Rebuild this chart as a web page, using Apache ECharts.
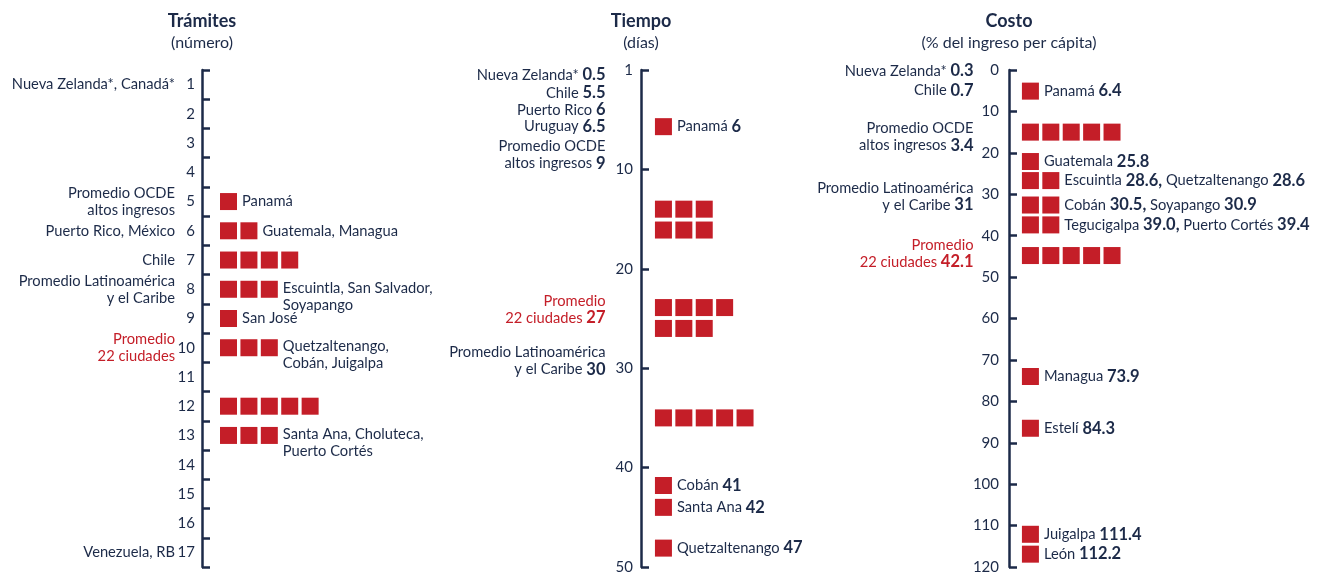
<!DOCTYPE html>
<html><head><meta charset="utf-8">
<script src="https://cdn.jsdelivr.net/npm/echarts@6/dist/echarts.min.js"></script>
<style>html,body{margin:0;padding:0;background:#fff}#c{width:1329px;height:575px}</style>
</head><body><div id="c"></div><script>
// ---------- DATA ----------
// Panel 1: Trámites (número)
const tramCats = ['1','2','3','4','5','6','7','8','9','10','11','12','13','14','15','16','17'];
const tramLeft = ['Nueva Zelanda*, Canadá*','','','','Promedio OCDE\naltos ingresos','Puerto Rico, México','Chile','Promedio Latinoamérica\ny el Caribe','','Promedio\n22 ciudades','','','','','','','Venezuela, RB'];
const tramLeftRed = ['10'];
const tramRows = ['5','6','7','8','9','10','12','13'];
const tramCounts = [1,2,4,3,1,3,5,3];
const tramNames = ['Panamá','Guatemala, Managua','','Escuintla, San Salvador,\nSoyapango','San José','Quetzaltenango,\nCobán, Juigalpa','','Santa Ana, Choluteca,\nPuerto Cortés'];

// Panel 2: Tiempo (días)
const tiempoTickLabels = ['1','10','20','30','40','50'];
const tiempoRowPos = [5.7,14.0,16.1,23.9,26.0,35.0,41.8,44.0,48.1];
const tiempoCounts = [1,3,3,4,3,5,1,1,1];
const tiempoNames = ['Panamá','','','','','','Cobán','Santa Ana','Quetzaltenango'];
const tiempoValues = ['6','','','','','','41','42','47'];
const tiempoRefNames = ['Nueva Zelanda*','Chile','Puerto Rico','Uruguay','Promedio OCDE\naltos ingresos','Promedio\n22 ciudades','Promedio Latinoamérica\ny el Caribe'];
const tiempoRefValues = ['0.5','5.5','6','6.5','9','27','30'];
const tiempoRefPos = [0.5,2.3,4.0,5.7,8.55,24.1,29.3];
const tiempoRefRed = [false,false,false,false,false,true,false];

// Panel 3: Costo (% del ingreso per cápita)
const costoRowPos = [5.1,15.0,22.1,26.7,32.6,37.4,44.8,74.0,86.5,112.1,116.9];
const costoCounts = [1,5,1,2,2,2,5,1,1,1,1];
const costoNames = [['Panamá'],[],['Guatemala'],['Escuintla','Quetzaltenango'],['Cobán','Soyapango'],['Tegucigalpa','Puerto Cortés'],[],['Managua'],['Estelí'],['Juigalpa'],['León']];
const costoValues = [['6.4'],[],['25.8'],['28.6','28.6'],['30.5','30.9'],['39.0','39.4'],[],['73.9'],['84.3'],['111.4'],['112.2']];
const costoRefNames = ['Nueva Zelanda*','Chile','Promedio OCDE\naltos ingresos','Promedio Latinoamérica\ny el Caribe','Promedio\n22 ciudades'];
const costoRefValues = ['0.3','0.7','3.4','31','42.1'];
const costoRefPos = [0.25,5.0,16.2,30.5,44.3];
const costoRefRed = [false,false,false,false,true];

// ---------- STYLE ----------
const NAVY = '#1c2a48', RED = '#c41e28', FONT = 'Lato';
const SQ = 17;
function rich(align){
  const b = {fontFamily: FONT, lineHeight: 17, align: align};
  return {
    t: Object.assign({}, b, {fontSize: 14.7, color: NAVY}),
    n: Object.assign({}, b, {fontSize: 16.5, fontWeight: 'bold', color: NAVY}),
    tr: Object.assign({}, b, {fontSize: 14.7, color: RED}),
    nr: Object.assign({}, b, {fontSize: 16.5, fontWeight: 'bold', color: RED})
  };
}
function textLines(s, red){ return s.split('\n').map(l => '{' + (red ? 'tr' : 't') + '|' + l + '}').join('\n'); }
function textWithNum(s, num, red){
  const lines = s.split('\n');
  const tk = red ? 'tr' : 't', nk = red ? 'nr' : 'n';
  return lines.map((l, i) => i === lines.length - 1 ? '{' + tk + '|' + l + ' }{' + nk + '|' + num + '}' : '{' + tk + '|' + l + '}').join('\n');
}

// grids: axis x position, offset of first square center (in slot units)
const G = [
  {left: 202, xmin: -1.3},
  {left: 641, xmin: -1.1},
  {left: 1009, xmin: -1.05}
];
const TOP = 70, H = 497, W = 204;

function squares(positions, counts, labelFn){
  const d = [];
  positions.forEach((p, r) => {
    for (let i = 0; i < counts[r]; i++) {
      const item = {value: [i, p]};
      if (i === counts[r] - 1) {
        const lab = labelFn(r);
        if (lab) {
          item.label = {show: true, formatter: lab.text};
          if (lab.multi) item.label.offset = [0, 7.5];
        }
      }
      d.push(item);
    }
  });
  return d;
}

const tramSq = squares(tramRows, tramCounts, r => tramNames[r] ? {text: textLines(tramNames[r]), multi: tramNames[r].includes('\n')} : null);
const tiempoSq = squares(tiempoRowPos, tiempoCounts, r => tiempoNames[r] ? {text: '{t|' + tiempoNames[r] + ' }{n|' + tiempoValues[r] + '}'} : null);
const costoSq = squares(costoRowPos, costoCounts, r => {
  if (!costoNames[r].length) return null;
  const parts = costoNames[r].map((nm, k) => '{t|' + (k ? ' ' : '') + nm + ' }{n|' + costoValues[r][k] + (k < costoNames[r].length - 1 ? ',' : '') + '}');
  return {text: parts.join('')};
});

function refData(names, values, pos, red, xmin){
  return names.map((nm, i) => ({value: [xmin, pos[i]], label: {formatter: textWithNum(nm, values[i], red[i])}}));
}

function sqSeries(idx, data){
  return {type: 'scatter', xAxisIndex: idx, yAxisIndex: idx === 0 ? 0 : idx + 1, symbol: 'rect', symbolSize: SQ,
    itemStyle: {color: RED, opacity: 1}, silent: true, clip: false, data: data,
    label: {show: false, position: 'right', distance: 5, rich: rich('left')}};
}
function refSeries(idx, data){
  return {type: 'scatter', xAxisIndex: idx, yAxisIndex: idx + 1, symbol: 'circle', symbolSize: 1,
    itemStyle: {color: 'rgba(255,255,255,0)', opacity: 1}, silent: true, clip: false, data: data,
    label: {show: true, position: 'left', distance: 35, align: 'right', rich: rich('right')}};
}

const axisLineStyle = {show: true, onZero: false, lineStyle: {color: NAVY, width: 2.5}};
const tickStyle = {show: true, inside: true, length: 8, lineStyle: {color: NAVY, width: 2.5}};
const numLabel = {color: NAVY, fontFamily: FONT, fontSize: 15};

const option = {
  animation: false,
  backgroundColor: '#fff',
  grid: G.map(g => ({left: g.left, top: TOP, width: W, height: H, containLabel: false})),
  xAxis: G.map((g, i) => ({type: 'value', gridIndex: i, min: g.xmin, max: g.xmin + 10, show: false})),
  yAxis: [
    {type: 'category', gridIndex: 0, data: tramCats, inverse: true, boundaryGap: true,
      axisLine: axisLineStyle, axisTick: Object.assign({}, tickStyle, {interval: 0}),
      axisLabel: Object.assign({}, numLabel, {interval: 0, margin: 7}), splitLine: {show: false}},
    {type: 'category', gridIndex: 0, data: tramCats, inverse: true, boundaryGap: true, position: 'left', offset: 27,
      axisLine: {show: false, onZero: false}, axisTick: {show: false}, splitLine: {show: false},
      axisLabel: {interval: 0, margin: 0, rich: rich('right'),
        formatter: (v, i) => tramLeft[i] ? textLines(tramLeft[i], tramLeftRed.includes(v)) : ''}},
    {type: 'value', gridIndex: 1, min: 0, max: 50, interval: 10, inverse: true,
      axisLine: axisLineStyle, axisTick: tickStyle, splitLine: {show: false},
      axisLabel: Object.assign({}, numLabel, {margin: 8, formatter: v => tiempoTickLabels[Math.round(v / 10)]})},
    {type: 'value', gridIndex: 2, min: 0, max: 120, interval: 10, inverse: true,
      axisLine: axisLineStyle, axisTick: tickStyle, splitLine: {show: false},
      axisLabel: Object.assign({}, numLabel, {margin: 10})}
  ],
  series: [
    sqSeries(0, tramSq),
    sqSeries(1, tiempoSq),
    refSeries(1, refData(tiempoRefNames, tiempoRefValues, tiempoRefPos, tiempoRefRed, G[1].xmin)),
    sqSeries(2, costoSq),
    refSeries(2, refData(costoRefNames, costoRefValues, costoRefPos, costoRefRed, G[2].xmin))
  ],
  graphic: [
    ['Trámites', '(número)', 202],
    ['Tiempo', '(días)', 641],
    ['Costo', '(% del ingreso per cápita)', 1009]
  ].flatMap(t => [
    {type: 'text', x: t[2], y: 21, silent: true, style: {text: t[0], align: 'center', verticalAlign: 'middle', fill: NAVY, font: 'bold 18px ' + FONT}},
    {type: 'text', x: t[2], y: 43, silent: true, style: {text: t[1], align: 'center', verticalAlign: 'middle', fill: NAVY, font: '16px ' + FONT}}
  ])
};
const chart = echarts.init(document.getElementById('c'));
chart.setOption(option);
</script></body></html>
